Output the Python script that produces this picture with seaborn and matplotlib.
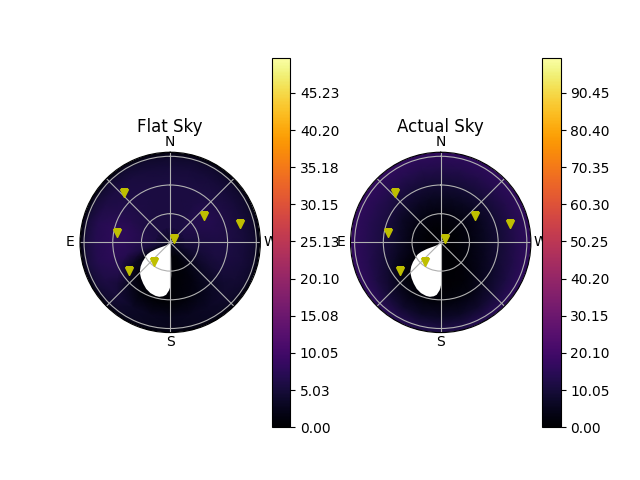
import numpy as np
import matplotlib
matplotlib.use('Agg')
import matplotlib.pyplot as plt
import seaborn as sns

# sky grid: azimuth nodes (deg, N=0 towards E) and zenith rings (deg)
az_nodes = [0, 15, 30, 45, 60, 75, 90, 105, 120, 135, 150, 165,
            180, 195, 210, 225, 240, 255, 270, 285, 300, 315, 330, 345]
zen_nodes = [0, 15, 30, 45, 60, 75, 85, 90]

# sky brightness, one row per zenith ring
flat_sky = [
    [3.0] * 24,
    [5.5, 5.5, 5.5, 5.5, 5.5, 5.5, 5.5, 4.5, 1.0, 0.5, 0.5, 0.5, 0.5, 0.5, 1.0, 2.5, 3.5, 4.5, 5.0, 5.5, 5.8, 5.8, 5.5, 5.5],
    [5.5, 5.5, 5.6, 5.8, 6.0, 6.5, 6.5, 5.5, 1.5, 0.5, 0.5, 0.5, 0.5, 0.5, 1.0, 2.5, 4.0, 5.0, 5.5, 6.0, 6.5, 6.5, 5.8, 5.5],
    [5.5, 5.5, 5.8, 6.0, 6.5, 7.5, 7.5, 7.0, 3.5, 0.8, 0.5, 0.5, 0.5, 0.8, 1.5, 3.0, 4.5, 5.5, 5.8, 6.3, 6.8, 6.5, 5.8, 5.5],
    [5.5, 5.5, 5.8, 6.0, 6.5, 7.5, 7.5, 7.5, 6.5, 3.0, 1.0, 0.5, 0.5, 1.0, 2.0, 3.5, 5.0, 5.5, 5.8, 6.0, 6.0, 5.8, 5.5, 5.5],
    [5.0, 5.0, 5.3, 5.6, 6.0, 6.8, 6.8, 6.8, 6.0, 5.0, 3.5, 2.8, 2.5, 2.8, 3.2, 4.0, 4.5, 5.0, 5.0, 5.0, 5.0, 5.0, 5.0, 5.0],
    [4.0, 4.0, 4.2, 4.4, 4.6, 5.0, 5.2, 5.2, 4.8, 4.0, 3.2, 2.8, 2.6, 2.8, 3.0, 3.5, 4.0, 4.0, 4.0, 4.0, 4.0, 4.0, 4.0, 4.0],
    [1.0] * 24,
]
actual_sky = [
    [0.0] * 24,
    [1.0, 1.0, 1.0, 1.0, 1.0, 1.0, 1.0, 0.8, 0.4, 0.3, 0.3, 0.3, 0.3, 0.3, 0.3, 0.5, 0.7, 0.9, 1.0, 1.0, 1.0, 1.0, 1.0, 1.0],
    [3.0, 3.0, 3.0, 3.2, 3.5, 3.5, 3.5, 3.0, 1.5, 0.5, 0.3, 0.3, 0.3, 0.3, 0.6, 1.2, 2.0, 2.5, 3.0, 3.0, 3.0, 3.0, 3.0, 3.0],
    [6.0, 6.0, 6.5, 7.0, 7.0, 7.5, 7.5, 6.5, 3.5, 1.0, 0.5, 0.5, 0.5, 0.8, 1.5, 3.0, 4.5, 5.5, 6.0, 6.0, 5.5, 5.5, 6.0, 6.0],
    [9.5, 9.5, 10.0, 10.5, 11.0, 11.0, 11.0, 10.0, 8.0, 5.0, 3.0, 2.0, 2.0, 2.5, 3.5, 5.5, 7.5, 9.0, 9.5, 9.5, 9.5, 9.5, 9.5, 9.5],
    [13.0, 13.0, 13.5, 14.0, 14.0, 14.0, 14.0, 13.5, 12.0, 10.0, 8.0, 7.0, 6.5, 7.0, 8.0, 10.0, 11.5, 12.5, 13.0, 13.0, 13.0, 13.0, 13.0, 13.0],
    [15.0, 15.0, 15.5, 15.5, 15.5, 15.5, 15.5, 15.5, 15.0, 14.0, 12.5, 11.5, 11.0, 11.5, 12.5, 13.5, 14.5, 15.0, 15.0, 15.0, 15.0, 15.0, 15.0, 15.0],
    [16.0, 16.0, 16.5, 16.5, 16.5, 16.5, 16.5, 16.5, 16.0, 15.0, 13.5, 12.5, 12.0, 12.5, 13.5, 14.5, 15.5, 16.0, 16.0, 16.0, 16.0, 16.0, 16.0, 16.0],
]

flat_vmax = 50.0
actual_vmax = 100.0
flat_ticks = [0.00, 5.03, 10.05, 15.08, 20.10, 25.13, 30.15, 35.18, 40.20, 45.23]
actual_ticks = [0.00, 10.05, 20.10, 30.15, 40.20, 50.25, 60.30, 70.35, 80.40, 90.45]

# targets (az, zenith in deg)
star_az = [42.6, 79.6, 125.2, 141.9, 307.5, 307.7, 284.6]
star_zen = [67.5, 53.6, 49.8, 25.4, 5.4, 43.0, 71.6]

# blanked region around the moon (az, inner and outer zenith in deg)
mask_az = [113, 114, 116, 118, 120, 124, 128, 132, 136, 140, 146, 152,
           158, 164, 168, 172, 175, 178, 179, 180, 181, 181.5, 182]
mask_r_in = [15, 11, 7.5, 5, 3.5, 2, 1, 0.5, 0, 0, 0, 0,
             0, 0, 0, 0, 0, 0, 0, 0, 0, 0, 0]
mask_r_out = [16, 22, 26, 28, 29.5, 34, 38, 41.3, 43.8, 46, 49, 52,
              54, 55, 55, 53.8, 52, 47.4, 45, 41, 32, 15, 0]

cmap = sns.color_palette('inferno', as_cmap=True)

fig, axes = plt.subplots(1, 2, figsize=(6.4, 4.8), dpi=100,
                         subplot_kw={'projection': 'polar'})


def sky_panel(ax, values, vmax, ticks, title):
    theta = np.radians(az_nodes + [360])
    r = np.radians(zen_nodes)
    T, R = np.meshgrid(theta, r)
    C = np.array(values)
    C = np.column_stack([C, C[:, 0]])  # close the ring at 360
    mesh = ax.pcolormesh(T, R, C, shading='gouraud', cmap=cmap, vmin=0, vmax=vmax)
    ax.fill_between(np.radians(mask_az), np.radians(mask_r_in), np.radians(mask_r_out),
                    color='white', lw=0)
    ax.plot(np.radians(star_az), np.radians(star_zen), 'v', color='y', ls='none')
    ax.set_theta_zero_location('N')
    ax.set_rlim(0, np.pi / 2)
    ax.set_rticks([0.5, 1.0, 1.5])
    ax.set_yticklabels([])
    ax.set_thetagrids(range(0, 360, 45), labels=['N', '', 'E', '', 'S', '', 'W', ''])
    ax.tick_params(axis='x', pad=-3.5)
    ax.set_title(title, y=1.0, pad=14.5)
    fig.colorbar(mesh, ax=ax, ticks=ticks, format='%.2f')


sky_panel(axes[0], flat_sky, flat_vmax, flat_ticks, 'Flat Sky')
sky_panel(axes[1], actual_sky, actual_vmax, actual_ticks, 'Actual Sky')

fig.savefig('out.png', dpi=100)
